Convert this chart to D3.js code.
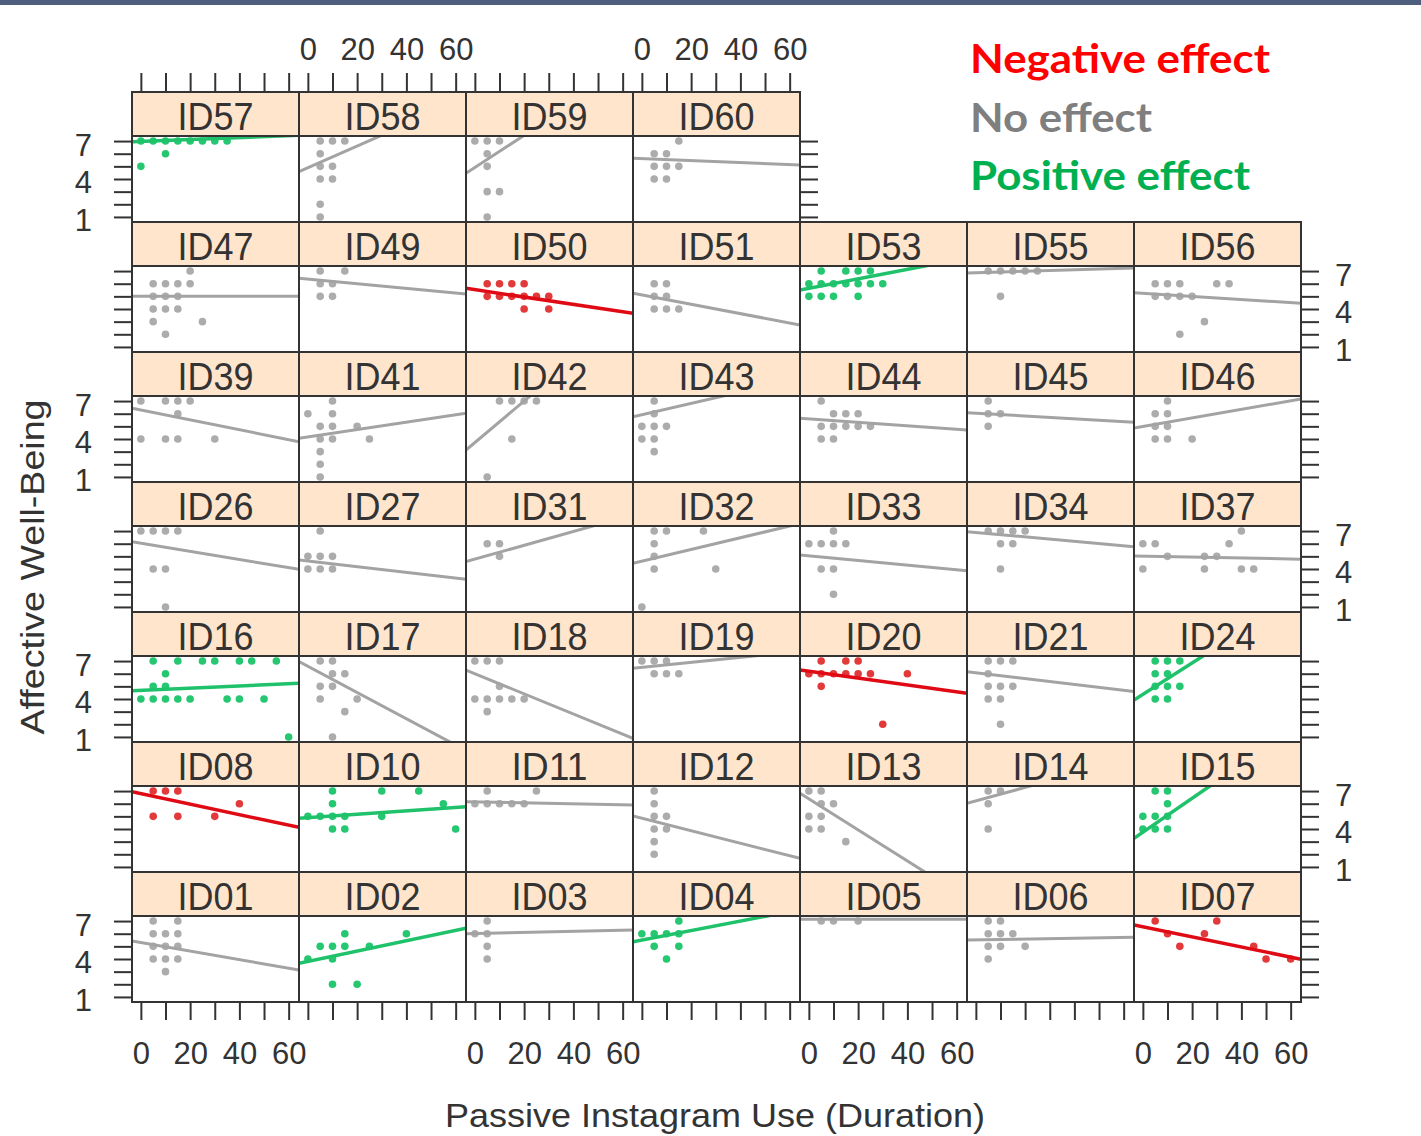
<!DOCTYPE html>
<html><head><meta charset="utf-8">
<script src="https://cdnjs.cloudflare.com/ajax/libs/d3/7.8.5/d3.min.js"></script>
<style>body{margin:0;background:#fff;overflow:hidden}</style></head>
<body><svg id="c" width="1421" height="1136"></svg>
<script>
// ---------- DATA ----------
const layoutRows = [
  ["ID57","ID58","ID59","ID60"],
  ["ID47","ID49","ID50","ID51","ID53","ID55","ID56"],
  ["ID39","ID41","ID42","ID43","ID44","ID45","ID46"],
  ["ID26","ID27","ID31","ID32","ID33","ID34","ID37"],
  ["ID16","ID17","ID18","ID19","ID20","ID21","ID24"],
  ["ID08","ID10","ID11","ID12","ID13","ID14","ID15"],
  ["ID01","ID02","ID03","ID04","ID05","ID06","ID07"]
];
const negativeIds = ["ID50","ID20","ID08","ID07"];
const positiveIds = ["ID57","ID53","ID16","ID24","ID10","ID15","ID02","ID04"];
// fitted lines: intercept (at duration 0) and slope per participant
const intercepts = {ID57:6.98,ID58:4.89,ID59:4.91,ID60:5.61,ID47:5.0,ID49:6.36,ID50:5.53,ID51:5.11,ID53:5.635,ID55:6.87,ID56:5.25,
  ID39:6.29,ID41:4.17,ID42:3.72,ID43:5.92,ID44:5.59,ID45:6.04,ID46:4.99,ID26:6.04,ID27:4.63,ID31:4.78,ID32:4.62,ID33:5.04,ID34:6.89,ID37:5.02,
  ID16:4.69,ID17:6.58,ID18:6.0,ID19:6.5,ID20:6.19,ID21:6.08,ID24:4.37,ID08:6.8,ID10:4.9,ID11:6.15,ID12:4.85,ID13:6.38,ID14:6.22,ID15:3.75,
  ID01:5.3,ID02:3.8,ID03:6.02,ID04:5.5,ID05:7.15,ID06:5.51,ID07:6.55};
const slopes = {ID57:0.0074,ID58:0.0857,ID59:0.127,ID60:-0.0078,ID47:0,ID49:-0.0183,ID50:-0.0292,ID51:-0.0369,ID53:0.0375,ID55:0.0058,ID56:-0.0124,
  ID39:-0.039,ID41:0.029,ID42:0.164,ID43:0.0448,ID44:-0.0137,ID45:-0.011,ID46:0.0338,ID26:-0.0322,ID27:-0.0224,ID31:0.0547,ID32:0.0463,ID33:-0.0183,ID34:-0.0176,ID37:-0.0038,
  ID16:0.0086,ID17:-0.1036,ID18:-0.0796,ID19:0.0199,ID20:-0.0271,ID21:-0.0233,ID24:0.124,ID08:-0.0416,ID10:0.0134,ID11:-0.0038,ID12:-0.0494,ID13:-0.1227,ID14:0.0535,ID15:0.134,
  ID01:-0.0338,ID02:0.0409,ID03:0.0043,ID04:0.0374,ID05:0,ID06:0.0032,ID07:-0.04};
// observations: [duration, well-being]
const obs = {
 ID57:[[0,5],[10,6],[0,7],[5,7],[10,7],[15,7],[20,7],[25,7],[30,7],[35,7]],
 ID58:[[5,7],[10,7],[15,7],[5,6],[5,5],[10,5],[5,4],[10,4],[5,2],[5,1]],
 ID59:[[0,7],[5,7],[10,7],[5,6],[5,5],[5,3],[10,3],[5,1]],
 ID60:[[15,7],[5,6],[10,6],[5,5],[10,5],[15,5],[5,4],[10,4]],
 ID47:[[20,7],[5,6],[10,6],[15,6],[20,6],[5,5],[10,5],[15,5],[5,4],[10,4],[15,4],[5,3],[25,3],[10,2]],
 ID49:[[5,7],[15,7],[5,6],[10,6],[5,5],[10,5]],
 ID50:[[5,6],[10,6],[15,6],[20,6],[5,5],[10,5],[15,5],[20,5],[25,5],[30,5],[20,4],[30,4]],
 ID51:[[5,6],[10,6],[5,5],[10,5],[5,4],[10,4],[15,4]],
 ID53:[[5,7],[15,7],[20,7],[25,7],[0,6],[5,6],[10,6],[15,6],[20,6],[25,6],[30,6],[0,5],[5,5],[10,5],[20,5]],
 ID55:[[5,7],[10,7],[15,7],[20,7],[25,7],[10,5]],
 ID56:[[5,6],[10,6],[15,6],[30,6],[35,6],[5,5],[10,5],[15,5],[20,5],[25,3],[15,2]],
 ID39:[[0,7],[10,7],[15,7],[20,7],[15,6],[0,4],[10,4],[15,4],[30,4]],
 ID41:[[10,7],[0,6],[10,6],[5,5],[10,5],[20,5],[5,4],[10,4],[25,4],[5,3],[5,2],[5,1]],
 ID42:[[10,7],[15,7],[20,7],[25,7],[15,4],[5,1]],
 ID43:[[5,7],[5,6],[0,5],[5,5],[10,5],[0,4],[5,4],[5,3]],
 ID44:[[5,7],[10,6],[15,6],[20,6],[5,5],[10,5],[15,5],[20,5],[25,5],[5,4],[10,4]],
 ID45:[[5,7],[5,6],[10,6],[5,5]],
 ID46:[[10,7],[5,6],[10,6],[5,5],[10,5],[5,4],[10,4],[20,4]],
 ID26:[[0,7],[5,7],[10,7],[15,7],[5,4],[10,4],[10,1]],
 ID27:[[5,7],[0,5],[5,5],[10,5],[0,4],[5,4],[10,4]],
 ID31:[[5,6],[10,6],[10,5]],
 ID32:[[5,7],[10,7],[25,7],[5,6],[5,5],[5,4],[30,4],[0,1]],
 ID33:[[10,7],[0,6],[5,6],[10,6],[15,6],[5,4],[10,4],[10,2]],
 ID34:[[5,7],[10,7],[15,7],[20,7],[10,6],[15,6],[10,4]],
 ID37:[[40,7],[0,6],[5,6],[35,6],[10,5],[25,5],[30,5],[0,4],[25,4],[40,4],[45,4]],
 ID16:[[5,7],[15,7],[25,7],[30,7],[40,7],[45,7],[55,7],[10,6],[5,5],[10,5],[0,4],[5,4],[10,4],[15,4],[20,4],[35,4],[40,4],[50,4],[60,1]],
 ID17:[[5,7],[10,7],[10,6],[15,6],[5,5],[10,5],[5,4],[20,4],[15,3],[10,1]],
 ID18:[[0,7],[5,7],[10,7],[10,5],[0,4],[5,4],[10,4],[15,4],[20,4],[5,3]],
 ID19:[[0,7],[5,7],[10,7],[5,6],[10,6],[15,6]],
 ID20:[[5,7],[15,7],[20,7],[0,6],[5,6],[10,6],[15,6],[20,6],[25,6],[40,6],[5,5],[30,2]],
 ID21:[[5,7],[10,7],[15,7],[5,6],[5,5],[10,5],[15,5],[5,4],[10,4],[10,2]],
 ID24:[[5,7],[10,7],[15,7],[5,6],[10,6],[5,5],[10,5],[15,5],[5,4],[10,4]],
 ID08:[[5,7],[10,7],[15,7],[40,6],[5,5],[15,5],[30,5]],
 ID10:[[10,7],[30,7],[45,7],[10,6],[55,6],[0,5],[5,5],[10,5],[15,5],[30,5],[10,4],[15,4],[60,4]],
 ID11:[[5,7],[25,7],[0,6],[5,6],[10,6],[15,6],[20,6]],
 ID12:[[5,7],[5,6],[5,5],[10,5],[5,4],[10,4],[5,3],[5,2]],
 ID13:[[0,7],[5,7],[5,6],[10,6],[0,5],[5,5],[0,4],[5,4],[15,3]],
 ID14:[[5,7],[10,7],[5,6],[5,4]],
 ID15:[[5,7],[10,7],[10,6],[0,5],[5,5],[10,5],[0,4],[5,4],[10,4]],
 ID01:[[5,7],[15,7],[5,6],[10,6],[15,6],[5,5],[10,5],[15,5],[5,4],[10,4],[15,4],[10,3]],
 ID02:[[15,6],[40,6],[5,5],[10,5],[15,5],[25,5],[0,4],[10,4],[10,2],[20,2]],
 ID03:[[5,7],[0,6],[5,6],[5,5],[5,4]],
 ID04:[[15,7],[0,6],[5,6],[10,6],[15,6],[5,5],[15,5],[10,4]],
 ID05:[[5,7],[10,7],[20,7]],
 ID06:[[5,7],[10,7],[5,6],[10,6],[15,6],[5,5],[10,5],[20,5],[5,4]],
 ID07:[[5,7],[30,7],[10,6],[25,6],[15,5],[45,5],[50,4],[60,4]]
};
const xTicks = [0,10,20,30,40,50,60];
const xLabels = [0,20,40,60];
const yTicks = [1,2,3,4,5,6,7];
const yLabels = [1,4,7];
const legendItems = ["Negative effect","No effect","Positive effect"];
const xTitle = "Passive Instagram Use (Duration)";
const yTitle = "Affective Well-Being";

// ---------- LAYOUT ----------
const svg = d3.select("#c");
const L0 = 132, colW = 167, T0 = 92, rowH = 130, stripH = 44, panelH = 86;
const x = d3.scaleLinear().domain([-3.6, 64.2]).range([0, colW]);
const y = d3.scaleLinear().domain([0.6, 7.4]).range([panelH, 0]);
const border = "#333";
const colorOf = id => negativeIds.includes(id) ? {line:"#e00a14", pt:"#e23a3a", w:3.5}
                  : positiveIds.includes(id) ? {line:"#1fc26b", pt:"#25c771", w:3.5}
                  : {line:"#a3a3a3", pt:"#acacac", w:3};

svg.append("rect").attr("x",0).attr("y",0).attr("width",1421).attr("height",5).attr("fill","#4e5f7e");

const fontTick = "'Liberation Sans', Arial, sans-serif";

layoutRows.forEach((row, r) => {
  row.forEach((id, c) => {
    const gx = L0 + c*colW, gy = T0 + r*rowH;
    const g = svg.append("g").attr("transform", `translate(${gx},${gy})`);
    // strip
    g.append("rect").attr("x",0).attr("y",0).attr("width",colW).attr("height",stripH)
      .attr("fill","#ffe5cc").attr("stroke",border).attr("stroke-width",2);
    g.append("text").attr("x",colW/2).attr("y",38).attr("text-anchor","middle")
      .attr("font-family",fontTick).attr("font-size",39).attr("fill","#333")
      .attr("textLength",76).attr("lengthAdjust","spacingAndGlyphs").text(id);
    // panel
    const p = g.append("g").attr("transform",`translate(0,${stripH})`);
    const cid = "clip-"+id;
    p.append("clipPath").attr("id",cid).append("rect").attr("width",colW).attr("height",panelH);
    p.append("rect").attr("width",colW).attr("height",panelH).attr("fill","#fff");
    const col = colorOf(id);
    const inner = p.append("g").attr("clip-path",`url(#${cid})`);
    inner.selectAll("circle").data(obs[id]).join("circle")
      .attr("cx",d=>x(d[0])).attr("cy",d=>y(d[1])).attr("r",3.8).attr("fill",col.pt);
    const xd = x.domain();
    const a = intercepts[id], b = slopes[id];
    inner.append("line").attr("x1",x(xd[0])).attr("y1",y(a+b*xd[0]))
      .attr("x2",x(xd[1])).attr("y2",y(a+b*xd[1]))
      .attr("stroke",col.line).attr("stroke-width",col.w);
    p.append("rect").attr("width",colW).attr("height",panelH).attr("fill","none")
      .attr("stroke",border).attr("stroke-width",2);

    // axes
    const styleAxis = sel => {
      sel.select(".domain").remove();
      sel.selectAll(".tick line").attr("stroke",border).attr("stroke-width",2);
      sel.selectAll(".tick text").attr("font-family",fontTick).attr("font-size",31).attr("fill","#333");
    };
    const fmtX = show => d => (show && xLabels.includes(d)) ? d : "";
    const fmtY = show => d => (show && yLabels.includes(d)) ? d : "";
    if (r === 0) {
      const ax = g.append("g").call(d3.axisTop(x).tickValues(xTicks).tickSize(19).tickPadding(13)
        .tickFormat(fmtX(c % 2 === 1)));
      styleAxis(ax);
    }
    if (r === layoutRows.length - 1) {
      const ax = p.append("g").attr("transform",`translate(0,${panelH})`)
        .call(d3.axisBottom(x).tickValues(xTicks).tickSize(18).tickPadding(22).tickFormat(fmtX(c % 2 === 0)));
      styleAxis(ax);
    }
    if (c === 0) {
      const ax = p.append("g").call(d3.axisLeft(y).tickValues(yTicks).tickSize(18).tickPadding(22).tickFormat(fmtY(r % 2 === 0)));
      styleAxis(ax);
      ax.selectAll(".tick text").attr("dy","0.45em");
    }
    if (c === row.length - 1) {
      const ax = p.append("g").attr("transform",`translate(${colW},0)`)
        .call(d3.axisRight(y).tickValues(yTicks).tickSize(18).tickPadding(16).tickFormat(fmtY(r % 2 === 1)));
      styleAxis(ax);
      ax.selectAll(".tick text").attr("dy","0.45em");
    }
  });
});

// axis titles
svg.append("text").attr("x",715).attr("y",1127).attr("text-anchor","middle")
  .attr("font-family",fontTick).attr("font-size",34).attr("fill","#333")
  .attr("textLength",540).attr("lengthAdjust","spacingAndGlyphs").text(xTitle);
svg.append("text").attr("transform","translate(44,567) rotate(-90)").attr("text-anchor","middle")
  .attr("font-family",fontTick).attr("font-size",34).attr("fill","#333")
  .attr("textLength",335).attr("lengthAdjust","spacingAndGlyphs").text(yTitle);

// legend
const legColors = ["#ff0000","#7f7f7f","#00b050"];
const legY = [73,132,190];
const legLen = [300,182,280];
legendItems.forEach((t,i) => {
  svg.append("text").attr("x",970).attr("y",legY[i]).attr("font-family","Lato, 'Open Sans', sans-serif")
    .attr("font-weight","bold").attr("font-size",40).attr("fill",legColors[i])
    .attr("textLength",legLen[i]).attr("lengthAdjust","spacingAndGlyphs").text(t);
});
</script></body></html>
